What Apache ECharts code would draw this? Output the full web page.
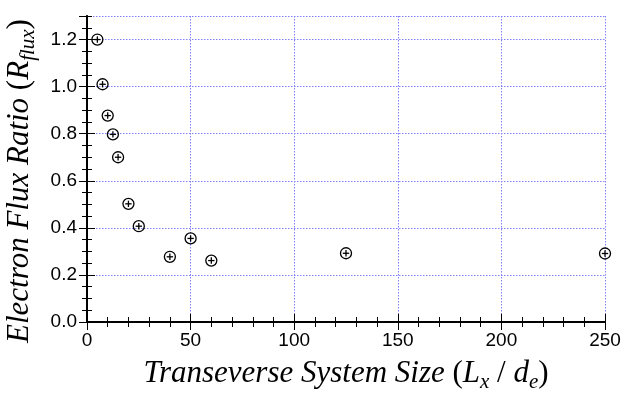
<!DOCTYPE html>
<html>
<head>
<meta charset="utf-8">
<script src="https://cdn.jsdelivr.net/npm/echarts@6/dist/echarts.min.js"></script>
<style>
  html, body { margin: 0; padding: 0; background: #fff; }
  #chart { width: 624px; height: 395px; }
</style>
</head>
<body>
<div id="chart"></div>
<script>
// system size L_x/d_e and electron flux ratio R_flux
let sizes = [5, 7.5, 10, 12.5, 15, 20, 25, 40, 50, 60, 125, 250];
let fluxRatio = [1.20, 1.01, 0.877, 0.797, 0.70, 0.502, 0.407, 0.277, 0.355, 0.261, 0.292, 0.291];

let points = sizes.map(function (x, i) { return [x, fluxRatio[i]]; });

let chart = echarts.init(document.getElementById('chart'));

let labelFont = {
    fontFamily: 'Liberation Sans',
    fontSize: 19,
    color: '#000'
};
let frameLine = { show: true, lineStyle: { color: '#000', width: 1.5 } };
let gridLine = { show: true, lineStyle: { color: '#8080ff', width: 1, type: [1.5, 1.5] } };
let titleRich = {
    i: { fontFamily: 'Liberation Serif', fontStyle: 'italic', fontSize: 31, lineHeight: 38, color: '#000' },
    r: { fontFamily: 'Liberation Serif', fontSize: 31, lineHeight: 38, color: '#000' },
    s: { fontFamily: 'Liberation Serif', fontStyle: 'italic', fontSize: 21, lineHeight: 21, verticalAlign: 'bottom', color: '#000' }
};

function xAx(pos, interval, len, opts) {
    return Object.assign({
        type: 'value', position: pos, min: 0, max: 250, interval: interval,
        axisLine: frameLine,
        axisTick: { show: true, inside: true, length: len, lineStyle: { color: '#000', width: 1 } },
        axisLabel: { show: false },
        splitLine: { show: false }
    }, opts || {});
}
function yAx(pos, interval, len, opts) {
    return Object.assign({
        type: 'value', position: pos, min: 0, max: 1.3, interval: interval,
        axisLine: frameLine,
        axisTick: { show: true, inside: true, length: len, lineStyle: { color: '#000', width: 1 } },
        axisLabel: { show: false },
        splitLine: { show: false }
    }, opts || {});
}

let option = {
    animation: false,
    backgroundColor: '#fff',
    grid: { left: 87, right: 19, top: 16, bottom: 73, outerBoundsMode: 'none', containLabel: false },
    xAxis: [
        xAx('bottom', 50, 8, {
            axisLabel: Object.assign({ show: true, margin: 9 }, labelFont),
            splitLine: gridLine,
            name: '{i|Transeverse System Size }{r|(}{i|L}{s|x}{r| / }{i|d}{s|e}{r|)}',
            nameLocation: 'middle',
            nameGap: 33,
            nameTextStyle: { rich: titleRich }
        }),
        xAx('bottom', 10, 5),
        xAx('top', 50, 8),
        xAx('top', 10, 5)
    ],
    yAxis: [
        yAx('left', 0.2, 8, {
            axisLabel: Object.assign({
                show: true, margin: 10, showMaxLabel: false,
                formatter: function (v) { return v.toFixed(1); }
            }, labelFont),
            splitLine: gridLine,
            name: '{i|Electron Flux Ratio }{r|(}{i|R}{s|flux}{r|)}',
            nameLocation: 'middle',
            nameGap: 48,
            nameTextStyle: { rich: titleRich, padding: [0, 24, 0, 0] }
        }),
        yAx('left', 0.05, 5),
        yAx('right', 0.2, 8),
        yAx('right', 0.05, 5)
    ],
    series: [{
        type: 'custom',
        coordinateSystem: 'cartesian2d',
        xAxisIndex: 0,
        yAxisIndex: 0,
        clip: false,
        data: points,
        renderItem: function (params, api) {
            let p = api.coord([api.value(0), api.value(1)]);
            let r = 5.5, c = 3.2;
            let st = { fill: null, stroke: '#000', lineWidth: 1.3 };
            return {
                type: 'group',
                children: [
                    { type: 'circle', shape: { cx: p[0], cy: p[1], r: r }, style: { fill: 'rgba(0,0,0,0)', stroke: '#000', lineWidth: 1.3 } },
                    { type: 'line', shape: { x1: p[0] - c, y1: p[1], x2: p[0] + c, y2: p[1] }, style: st },
                    { type: 'line', shape: { x1: p[0], y1: p[1] - c, x2: p[0], y2: p[1] + c }, style: st }
                ]
            };
        }
    }]
};

chart.setOption(option);
</script>
</body>
</html>
